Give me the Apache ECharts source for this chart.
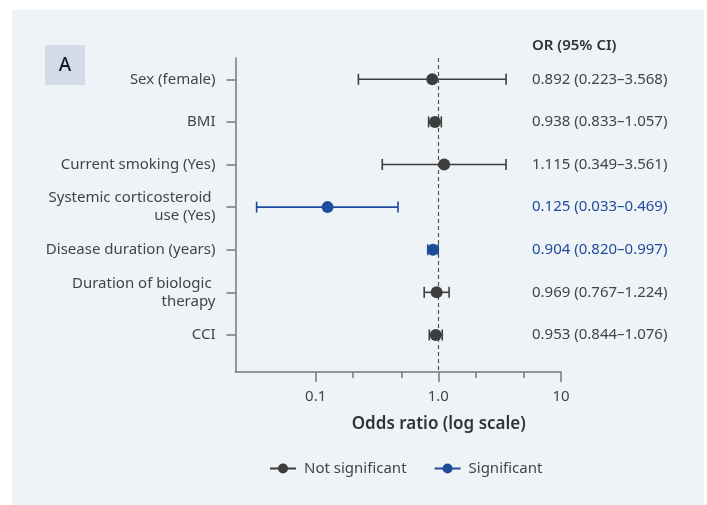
<!DOCTYPE html>
<html>
<head>
<meta charset="utf-8">
<script src="https://cdn.jsdelivr.net/npm/echarts@6/dist/echarts.min.js"></script>
<style>
  html, body { margin: 0; padding: 0; background: #ffffff; }
  #panel { position: absolute; left: 12px; top: 10px; width: 692px; height: 495px; background: #eef3f7; }
  #chart { position: absolute; left: 0; top: 0; width: 707px; height: 505px; }
</style>
</head>
<body>
<div id="panel"></div>
<div id="chart"></div>
<script>
// ---- data ----
const categories = [
  'Sex (female)',
  'BMI',
  'Current smoking (Yes)',
  'Systemic corticosteroid \nuse (Yes)',
  'Disease duration (years)',
  'Duration of biologic \ntherapy',
  'CCI'
];
const oddsRatio = [0.892, 0.938, 1.115, 0.125, 0.904, 0.969, 0.953];
const ciLow     = [0.223, 0.833, 0.349, 0.033, 0.820, 0.767, 0.844];
const ciHigh    = [3.568, 1.057, 3.561, 0.469, 0.997, 1.224, 1.076];
const significant = [false, false, false, true, true, false, false];
const xMajorTicks = [0.1, 1, 10];
const xMajorLabels = ['0.1', '1.0', '10'];
const xMinorTicks = [0.2, 0.5, 2, 5];
const seriesNames = ['Not significant', 'Significant'];

const GREY = '#3d3d3d';
const BLUE = '#1f4b9b';
const TEXT = '#444444';
const FONT = 'Noto Sans';

const rows = categories.map((c, i) => i);
const orText = rows.map(i =>
  oddsRatio[i].toFixed(3) + ' (' + ciLow[i].toFixed(3) + '\u2013' + ciHigh[i].toFixed(3) + ')');

function pointsFor(sig) {
  return rows.filter(i => significant[i] === sig).map(i => [oddsRatio[i], i]);
}
function barsFor(sig) {
  return rows.filter(i => significant[i] === sig).map(i => [ciLow[i], ciHigh[i], i]);
}

function errorBar(color) {
  return function (params, api) {
    const lo = api.coord([api.value(0), api.value(2)]);
    const hi = api.coord([api.value(1), api.value(2)]);
    const h = 5.5;
    const style = { stroke: color, lineWidth: 1.6, fill: null };
    return {
      type: 'group',
      children: [
        { type: 'line', shape: { x1: lo[0], y1: lo[1], x2: hi[0], y2: hi[1] }, style: style },
        { type: 'line', shape: { x1: lo[0], y1: lo[1] - h, x2: lo[0], y2: lo[1] + h }, style: style },
        { type: 'line', shape: { x1: hi[0], y1: hi[1] - h, x2: hi[0], y2: hi[1] + h }, style: style }
      ]
    };
  };
}

const legendIcon = 'path://M0,4 H26 V6 H0 Z M8,5 A5,5 0 1,1 18,5 A5,5 0 1,1 8,5 Z';

const chart = echarts.init(document.getElementById('chart'), null, { renderer: 'canvas' });
const axisColor = '#777777';

chart.setOption({
  backgroundColor: 'transparent',
  animation: false,
  textStyle: { fontFamily: FONT },
  title: {
    text: 'OR (95% CI)',
    left: 532,
    top: 38,
    padding: 0,
    textStyle: { fontFamily: FONT, fontSize: 15, fontWeight: 600, color: '#333333' }
  },
  graphic: [
    { type: 'rect', shape: { x: 45, y: 45, width: 40, height: 40 }, style: { fill: '#d4dcea' } },
    { type: 'text', x: 65, y: 66, style: { text: 'A', fontFamily: FONT, fontSize: 19, fontWeight: 500, fill: '#1a1a1a', align: 'center', verticalAlign: 'middle' } }
  ],
  legend: {
    left: 265,
    top: 456,
    itemWidth: 26,
    itemHeight: 10,
    itemGap: 28,
    data: [
      { name: seriesNames[0], icon: legendIcon, itemStyle: { color: GREY } },
      { name: seriesNames[1], icon: legendIcon, itemStyle: { color: BLUE } }
    ],
    textStyle: { fontFamily: FONT, fontSize: 15, color: TEXT, padding: [0, 0, 0, 3] }
  },
  grid: { left: 235.5, right: 146, top: 58, bottom: 133, containLabel: false },
  xAxis: [
    {
      type: 'log',
      logBase: 10,
      min: 0.0222,
      max: 10,
      axisLine: { show: true, onZero: false, lineStyle: { color: axisColor, width: 1.5 } },
      axisTick: { show: true, customValues: xMajorTicks, length: 10, lineStyle: { color: axisColor, width: 1.5 } },
      axisLabel: {
        show: true,
        customValues: xMajorTicks,
        margin: 17,
        fontFamily: FONT,
        fontSize: 15,
        color: TEXT,
        formatter: function (v) {
          const idx = xMajorTicks.findIndex(t => Math.abs(Math.log10(t) - Math.log10(v)) < 1e-6);
          return idx >= 0 ? xMajorLabels[idx] : '';
        }
      },
      splitLine: { show: false },
      minorTick: { show: false },
      name: 'Odds ratio (log scale)',
      nameLocation: 'middle',
      nameGap: 44,
      nameTextStyle: { fontFamily: FONT, fontSize: 17, fontWeight: 600, color: '#333333', padding: [0, 0, 0, 81] }
    },
    {
      type: 'log',
      logBase: 10,
      min: 0.0222,
      max: 10,
      position: 'bottom',
      axisLine: { show: false, onZero: false },
      axisTick: { show: true, customValues: xMinorTicks, length: 6, lineStyle: { color: axisColor, width: 1.5 } },
      axisLabel: { show: false },
      splitLine: { show: false }
    }
  ],
  yAxis: [
    {
      type: 'value',
      inverse: true,
      min: -0.5,
      max: 6.87,
      axisLine: { show: true, onZero: false, lineStyle: { color: axisColor, width: 1.5 } },
      axisTick: { show: true, customValues: rows, length: 9, lineStyle: { color: axisColor, width: 1.5 } },
      axisLabel: {
        show: true,
        customValues: rows,
        margin: 20,
        fontFamily: FONT,
        fontSize: 15,
        lineHeight: 18,
        color: TEXT,
        align: 'right',
        formatter: function (v) { return categories[Math.round(v)]; }
      },
      splitLine: { show: false }
    },
    {
      type: 'value',
      inverse: true,
      min: -0.5,
      max: 6.87,
      position: 'right',
      offset: -29,
      axisLine: { show: false, onZero: false },
      axisTick: { show: false },
      axisLabel: {
        show: true,
        customValues: rows,
        margin: 0,
        fontFamily: FONT,
        fontSize: 15,
        align: 'left',
        color: function (v) { return significant[Math.round(v)] ? BLUE : TEXT; },
        formatter: function (v) { return orText[Math.round(v)]; }
      },
      splitLine: { show: false }
    }
  ],
  series: [
    {
      name: seriesNames[0],
      type: 'custom',
      xAxisIndex: 0, yAxisIndex: 0,
      renderItem: errorBar(GREY),
      encode: { x: [0, 1], y: 2 },
      data: barsFor(false),
      itemStyle: { color: GREY },
      z: 3
    },
    {
      name: seriesNames[1],
      type: 'custom',
      xAxisIndex: 0, yAxisIndex: 0,
      renderItem: errorBar(BLUE),
      encode: { x: [0, 1], y: 2 },
      data: barsFor(true),
      itemStyle: { color: BLUE },
      z: 3
    },
    {
      name: seriesNames[0],
      type: 'scatter',
      xAxisIndex: 0, yAxisIndex: 0,
      symbol: 'circle',
      symbolSize: 12,
      itemStyle: { color: GREY, opacity: 1 },
      data: pointsFor(false),
      z: 5,
      markLine: {
        silent: true,
        symbol: 'none',
        label: { show: false },
        lineStyle: { color: '#555555', width: 1.2, type: [4, 3] },
        data: [{ xAxis: 1 }]
      }
    },
    {
      name: seriesNames[1],
      type: 'scatter',
      xAxisIndex: 0, yAxisIndex: 0,
      symbol: 'circle',
      symbolSize: 12,
      itemStyle: { color: BLUE, opacity: 1 },
      data: pointsFor(true),
      z: 5
    }
  ]
});
</script>
</body>
</html>
